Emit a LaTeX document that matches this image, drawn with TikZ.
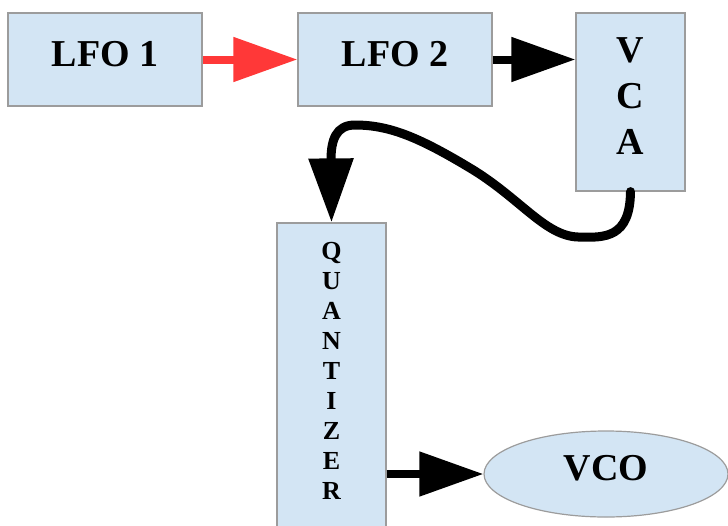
\documentclass[tikz,border=0pt]{standalone}
\usepackage{fontspec}
\setmainfont{Liberation Serif}
\usetikzlibrary{arrows.meta, shapes.geometric}
\definecolor{blockFill}{HTML}{D3E5F4}
\definecolor{blockLine}{HTML}{9C9C9C}
\definecolor{linkRed}{HTML}{FF3838}

\begin{document}
\begin{tikzpicture}[x=1pt, y=-1pt,
    blk/.style={draw=blockLine, fill=blockFill, line width=1.2pt, inner sep=0pt,
      font=\fontsize{38}{46}\selectfont\bfseries, align=center, text depth=12pt},
    link/.style={line width=8pt, -{Triangle[length=64pt, width=43pt]}}]
  \useasboundingbox (0,0) rectangle (728,525);
  \node[blk, minimum width=194pt, minimum height=93pt] (lfo1) at (105,59.5) {LFO 1};
  \node[blk, minimum width=194pt, minimum height=93pt] (lfo2) at (395,59.5) {LFO 2};
  \node[blk, minimum width=109pt, minimum height=178pt] (vca) at (630.5,102) {V\\C\\A};
  \node[blk, minimum width=109pt, minimum height=307pt,
    font=\fontsize{26}{30}\selectfont\bfseries] (quant) at (331.5,376.5)
    {Q\\U\\A\\N\\T\\I\\Z\\E\\R};
  \node[blk, ellipse, minimum width=244pt, minimum height=86pt] (vco) at (606,474) {VCO};
  % connectors
  \draw[link, linkRed] (lfo1.east) -- (lfo2.west);
  \draw[link] (lfo2.east) -- (lfo2.east -| vca.west);
  \draw[link, line width=9pt, line cap=round] (vca.south)
    .. controls (630,238) and (605,238) .. (578,237)
    .. controls (545,236) and (520,198) .. (470,168)
    .. controls (420,138) and (390,125) .. (355,125)
    .. controls (336,125) and (331,140) .. (331,160)
    -- (quant.north);
  \draw[link] (vco.west -| quant.east) -- (vco.west);
\end{tikzpicture}
\end{document}
